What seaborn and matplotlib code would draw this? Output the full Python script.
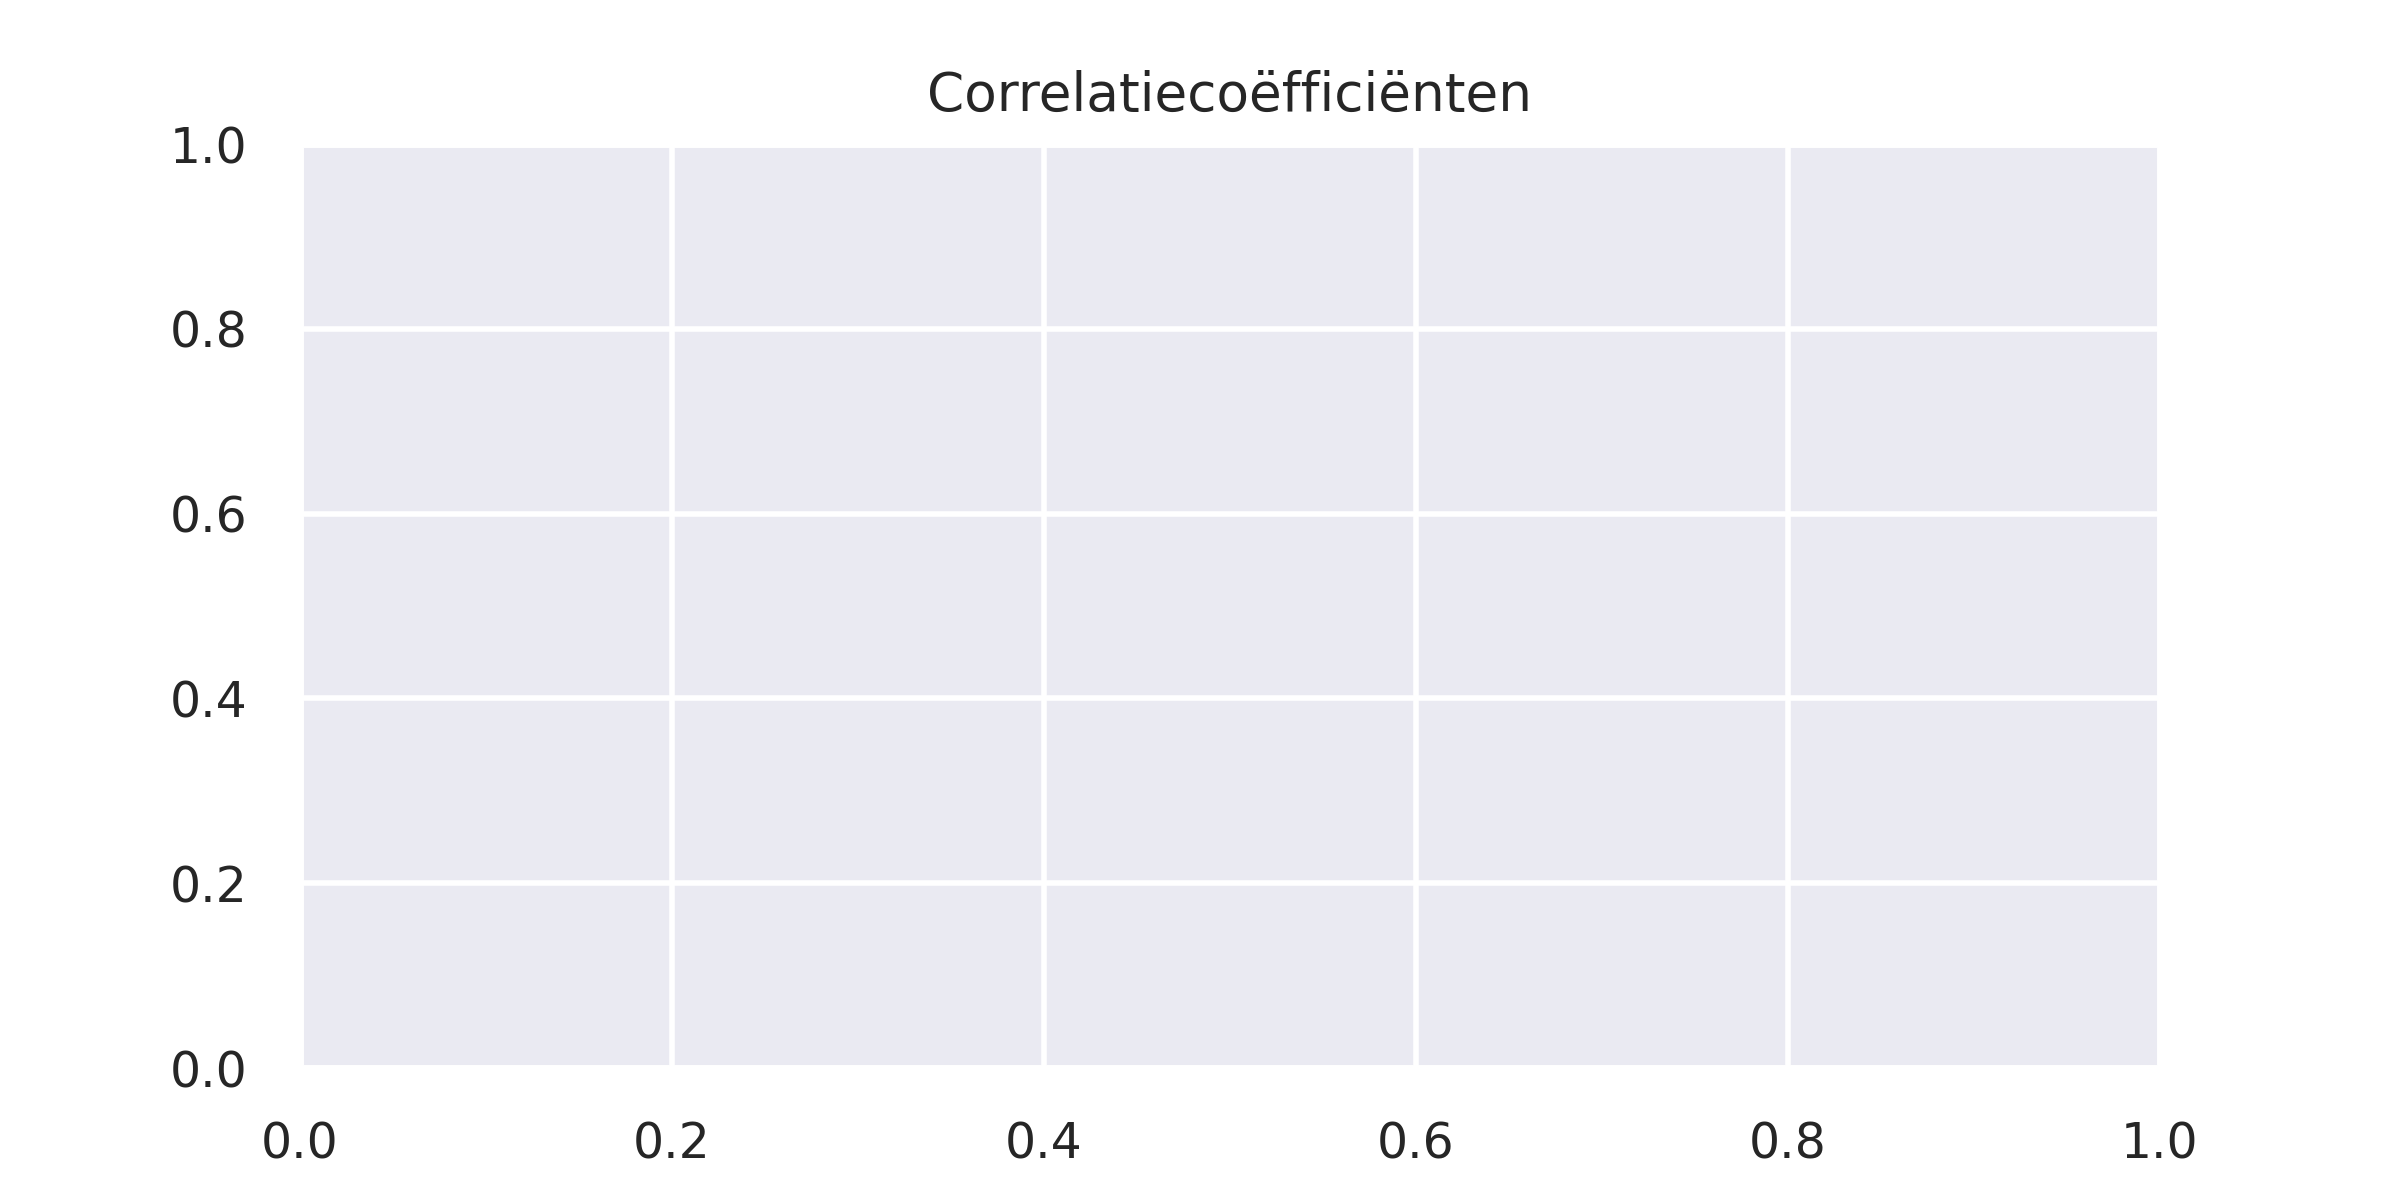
import seaborn as sns
import pandas as pd
from matplotlib import pyplot as plt

# no correlation values are drawn in the reference: the matrix is empty
columns = []
values = []
title = 'Correlatiecoëfficiënten'

corr_df = pd.DataFrame(values, columns=columns)

sns.set_theme(style='darkgrid', font_scale=0.8)

fig, ax = plt.subplots(figsize=(6, 3))
if not corr_df.empty:
    sns.heatmap(corr_df, ax=ax, annot=True, cmap='coolwarm')
ax.set_title(title)

fig.savefig('out.png', dpi=400)
